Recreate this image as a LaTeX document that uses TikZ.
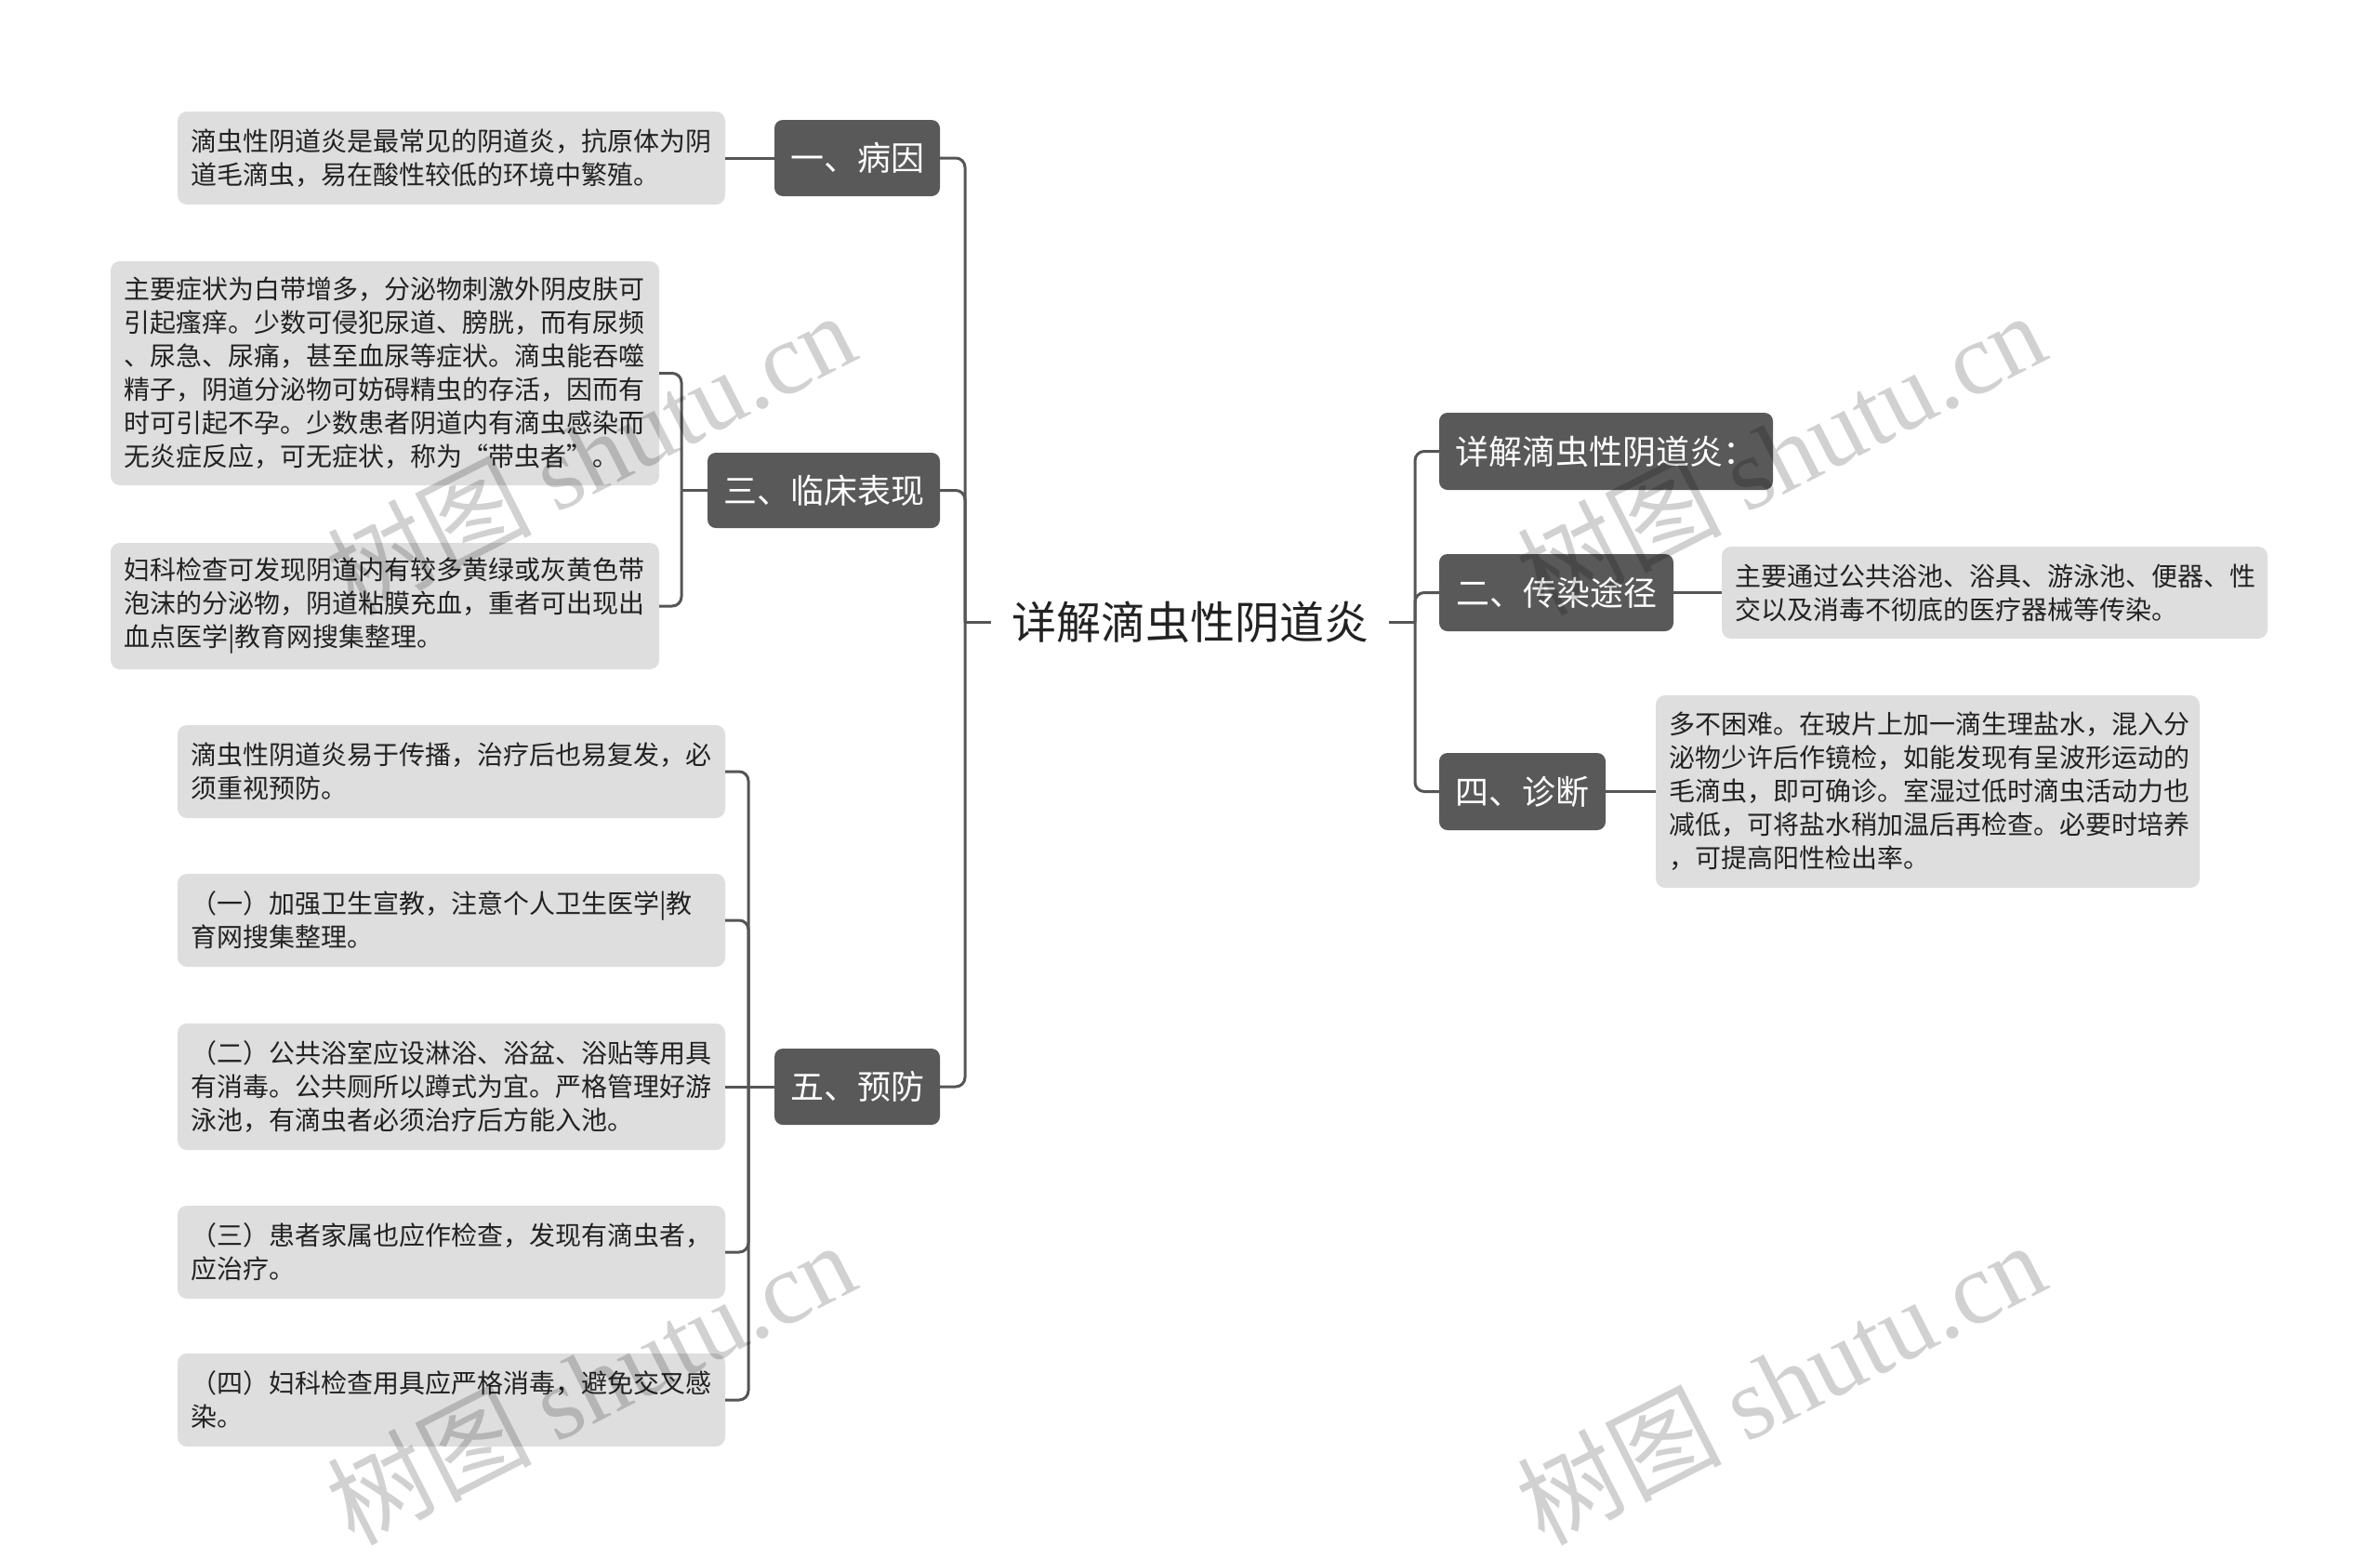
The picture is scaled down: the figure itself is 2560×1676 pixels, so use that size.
\documentclass[tikz,border=0pt]{standalone}
\usepackage{fontspec}
\setmainfont{Noto Sans CJK SC}
\newfontfamily\wmfont{Liberation Serif}
\definecolor{darkbox}{HTML}{595959}
\definecolor{lightbox}{HTML}{DEDEDE}
\definecolor{linec}{HTML}{555555}
\definecolor{txt}{HTML}{222222}
\tikzset{
  lone/.style={fill=darkbox, text=white, rounded corners=9pt, inner sep=0pt,
    font=\fontsize{36}{40}\selectfont},
  ltwo/.style={fill=lightbox, text=txt, rounded corners=10pt, inner xsep=14pt, inner ysep=0pt,
    font=\fontsize{28}{36}\selectfont, align=left},
  rootnode/.style={text=txt, inner xsep=22pt, inner ysep=4pt, font=\fontsize{48}{52}\selectfont},
  conn/.style={draw=linec, line width=3pt, rounded corners=10pt},
  wmark/.style={text=black, text opacity=0.18, inner sep=0pt, anchor=base west, rotate=27,
    font=\fontsize{110}{120}\selectfont}
}
\begin{document}
\begin{tikzpicture}[x=1pt,y=-1pt]
\fill[white] (0,0) rectangle (2560,1676);
\useasboundingbox (0,0) rectangle (2560,1676);

% root
\node[rootnode] (root) at (1280,669) {详解滴虫性阴道炎};

% level 1 left
\node[lone, minimum width=178pt, minimum height=82pt] (yi) at (922,170) {一、病因};
\node[lone, minimum width=250pt, minimum height=81pt] (san) at (886,527.5) {三、临床表现};
\node[lone, minimum width=178pt, minimum height=82pt] (wu) at (922,1169) {五、预防};

% level 1 right
\node[lone, minimum width=359pt, minimum height=83pt] (xj) at (1727.5,485.5) {详解滴虫性阴道炎：};
\node[lone, minimum width=252pt, minimum height=83pt] (er) at (1674,637.5) {二、传染途径};
\node[lone, minimum width=179pt, minimum height=83pt] (si) at (1637.5,851.5) {四、诊断};

% level 2 left
\node[ltwo, minimum width=589pt, text width=561pt, minimum height=100pt] (a) at (485.5,170)
  {滴虫性阴道炎是最常见的阴道炎，抗原体为阴\\道毛滴虫，易在酸性较低的环境中繁殖。};
\node[ltwo, minimum width=590pt, text width=562pt, minimum height=241pt] (b1) at (414,401.5)
  {主要症状为白带增多，分泌物刺激外阴皮肤可\\引起瘙痒。少数可侵犯尿道、膀胱，而有尿频\\、尿急、尿痛，甚至血尿等症状。滴虫能吞噬\\精子，阴道分泌物可妨碍精虫的存活，因而有\\时可引起不孕。少数患者阴道内有滴虫感染而\\无炎症反应，可无症状，称为“带虫者”。};
\node[ltwo, minimum width=590pt, text width=562pt, minimum height=136pt] (b2) at (414,652)
  {妇科检查可发现阴道内有较多黄绿或灰黄色带\\泡沫的分泌物，阴道粘膜充血，重者可出现出\\血点医学|教育网搜集整理。};
\node[ltwo, minimum width=589pt, text width=561pt, minimum height=100pt] (c1) at (485.5,830)
  {滴虫性阴道炎易于传播，治疗后也易复发，必\\须重视预防。};
\node[ltwo, minimum width=589pt, text width=561pt, minimum height=100pt] (c2) at (485.5,990)
  {（一）加强卫生宣教，注意个人卫生医学|教\\育网搜集整理。};
\node[ltwo, minimum width=589pt, text width=561pt, minimum height=136pt] (c3) at (485.5,1169)
  {（二）公共浴室应设淋浴、浴盆、浴贴等用具\\有消毒。公共厕所以蹲式为宜。严格管理好游\\泳池，有滴虫者必须治疗后方能入池。};
\node[ltwo, minimum width=589pt, text width=561pt, minimum height=100pt] (c4) at (485.5,1347)
  {（三）患者家属也应作检查，发现有滴虫者，\\应治疗。};
\node[ltwo, minimum width=589pt, text width=561pt, minimum height=100pt] (c5) at (485.5,1506)
  {（四）妇科检查用具应严格消毒，避免交叉感\\染。};

% level 2 right
\node[ltwo, minimum width=587pt, text width=559pt, minimum height=99pt] (d) at (2145.5,637.5)
  {主要通过公共浴池、浴具、游泳池、便器、性\\交以及消毒不彻底的医疗器械等传染。};
\node[ltwo, minimum width=585pt, text width=557pt, minimum height=207pt] (e) at (2073.5,851.5)
  {多不困难。在玻片上加一滴生理盐水，混入分\\泌物少许后作镜检，如能发现有呈波形运动的\\毛滴虫，即可确诊。室湿过低时滴虫活动力也\\减低，可将盐水稍加温后再检查。必要时培养\\，可提高阳性检出率。};

% junction coordinates
\coordinate (lt) at (1038,669);
\coordinate (rt) at (1522,669);
\coordinate (sj) at (733,527.5);
\coordinate (wj) at (805,1169);

% connectors root -> level 1
\draw[conn] (root.west) -- (lt);
\draw[conn] (lt) |- (yi.east);
\draw[conn] (lt) |- (san.east);
\draw[conn] (lt) |- (wu.east);
\draw[conn] (root.east) -- (rt);
\draw[conn] (rt) |- (xj.west);
\draw[conn] (rt) |- (er.west);
\draw[conn] (rt) |- (si.west);

% connectors level 1 -> level 2
\draw[conn] (yi.west) -- (a.east);
\draw[conn] (san.west) -- (sj);
\draw[conn] (sj) |- (b1.east);
\draw[conn] (sj) |- (b2.east);
\draw[conn] (wu.west) -- (wj);
\draw[conn] (wj) |- (c1.east);
\draw[conn] (wj) |- (c2.east);
\draw[conn] (wj) -- (c3.east);
\draw[conn] (wj) |- (c4.east);
\draw[conn] (wj) |- (c5.east);
\draw[conn] (er.east) -- (d.west);
\draw[conn] (si.east) -- (e.west);

% watermarks
\node[wmark] (wm1) at (380,664) {树图 {\wmfont shutu.cn}};
\node[wmark] (wm2) at (1660,664) {树图 {\wmfont shutu.cn}};
\node[wmark] (wm3) at (380,1664) {树图 {\wmfont shutu.cn}};
\node[wmark] (wm4) at (1660,1664) {树图 {\wmfont shutu.cn}};
\end{tikzpicture}
\end{document}
